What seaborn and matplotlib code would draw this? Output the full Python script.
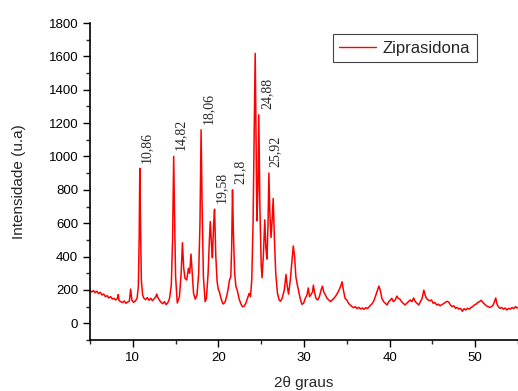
import pandas as pd
import matplotlib
matplotlib.use("Agg")
import matplotlib.pyplot as plt
import seaborn as sns
from matplotlib.ticker import MultipleLocator

# XRD pattern (2theta in degrees, intensity in u.a)
two_theta = [
    5.0, 5.2, 5.4, 5.6, 5.8, 6.0, 6.2, 6.4, 6.6, 6.8, 7.0, 7.2, 7.4, 7.6, 7.8,
    8.0, 8.2, 8.3, 8.4, 8.6, 8.8, 9.0, 9.2, 9.4, 9.6, 9.75, 9.9, 10.1, 10.3, 10.5,
    10.65, 10.75, 10.82, 10.9, 11.0, 11.15, 11.3, 11.5, 11.7, 11.9, 12.1, 12.3,
    12.5, 12.7, 12.8, 12.9, 13.1, 13.3, 13.5, 13.7, 13.9, 14.1, 14.3,
    14.5, 14.65, 14.78, 14.88, 15.0, 15.2, 15.45, 15.65, 15.8, 15.95, 16.1, 16.3,
    16.5, 16.65, 16.8, 16.95, 17.1, 17.3, 17.5, 17.7, 17.85, 17.98, 18.1, 18.25,
    18.45, 18.6, 18.8, 18.95, 19.05, 19.2, 19.3, 19.45, 19.55, 19.7, 19.85, 20.0,
    20.1, 20.3, 20.5, 20.6, 20.8, 21.0, 21.15, 21.3, 21.45, 21.55, 21.65, 21.75,
    21.9, 22.05, 22.2, 22.4, 22.6, 22.8, 23.0, 23.2, 23.4, 23.6, 23.75, 23.9,
    24.05, 24.2, 24.3, 24.42, 24.5, 24.62, 24.72, 24.85, 25.0, 25.1, 25.25, 25.42,
    25.55, 25.68, 25.8, 25.9, 26.02, 26.15, 26.28, 26.4, 26.55, 26.7, 26.9, 27.1,
    27.25, 27.45, 27.7, 27.9, 28.05, 28.2, 28.4, 28.6, 28.75, 28.9, 29.05, 29.2,
    29.35, 29.55, 29.75, 29.95, 30.15, 30.35, 30.5, 30.65, 30.8, 31.0, 31.1, 31.25,
    31.4, 31.6, 31.8, 32.0, 32.15, 32.3, 32.5, 32.7, 32.9, 33.1, 33.3, 33.5, 33.7,
    33.9, 34.1, 34.3, 34.45, 34.6, 34.8, 35.0, 35.2, 35.4, 35.6, 35.8, 36.0, 36.2,
    36.4, 36.6, 36.8, 37.0, 37.2, 37.4, 37.6, 37.8, 38.0, 38.2, 38.4, 38.6, 38.75,
    38.9, 39.1, 39.3, 39.5, 39.7, 39.9, 40.1, 40.25, 40.45, 40.65, 40.85, 41.0,
    41.2, 41.4, 41.6, 41.8, 42.0, 42.2, 42.4, 42.6, 42.8, 43.0, 43.2, 43.4, 43.6,
    43.8, 44.0, 44.15, 44.3, 44.5, 44.7, 44.9, 45.1, 45.3, 45.5, 45.7, 45.9, 46.1,
    46.3, 46.5, 46.7, 46.9, 47.1, 47.3, 47.5, 47.7, 47.9, 48.1, 48.3, 48.5, 48.7,
    48.9, 49.1, 49.3, 49.5, 49.7, 49.9, 50.1, 50.3, 50.5, 50.7, 50.9, 51.1, 51.3,
    51.5, 51.7, 51.9, 52.1, 52.25, 52.4, 52.55, 52.7, 52.9, 53.1, 53.3, 53.5, 53.7,
    53.9, 54.1, 54.3, 54.5, 54.7, 54.9, 55.0,
]
intensity = [
    199, 188, 196, 184, 192, 178, 186, 170, 176, 160, 166, 152, 160, 146, 150,
    140, 148, 172, 136, 130, 124, 134, 120, 128, 132, 205, 138, 126, 134, 150,
    220, 520, 929, 600, 260, 170, 150, 142, 154, 138, 150, 136,
    148, 160, 176, 158, 140, 126, 118, 130, 112, 124, 150,
    230, 500, 1001, 650, 280, 122, 160, 300, 483, 330, 270, 260,
    330, 300, 415, 300, 180, 145, 170, 300, 600, 1160, 700, 280,
    130, 150, 300, 500, 610, 470, 393, 600, 684, 400, 250, 200,
    193, 150, 120, 116, 130, 170, 210, 260, 280, 450, 800, 550,
    300, 220, 200, 150, 120, 100, 102, 120, 150, 180, 160, 260,
    600, 1200, 1618, 1000, 614, 800, 1250, 700, 350, 273, 400, 620,
    450, 385, 600, 901, 650, 514, 620, 748, 500, 300, 180, 140,
    132, 150, 200, 293, 220, 175, 260, 380, 464, 400, 280, 235,
    200, 150, 114, 120, 150, 170, 212, 160, 170, 190, 229, 180,
    150, 140, 160, 200, 223, 190, 170, 150, 140, 130, 140, 150, 163,
    180, 200, 225, 249, 200, 150, 140, 120, 110, 100, 94, 100, 88,
    96, 86, 92, 84, 94, 88, 98, 110, 120, 140, 170, 200, 223,
    200, 150, 130, 120, 110, 130, 140, 150, 130, 140, 163, 150,
    145, 130, 120, 110, 120, 130, 140, 130, 152, 130, 120, 110, 130,
    150, 199, 170, 150, 140, 135, 140, 120, 125, 110, 115, 105, 112,
    118, 125, 132, 128, 110, 100, 105, 90, 95, 85, 90, 72, 88,
    80, 90, 85, 95, 100, 110, 115, 125, 130, 138, 125, 115, 105,
    100, 95, 100, 110, 130, 152, 115, 100, 90, 95, 85, 92, 80,
    90, 85, 95, 88, 100, 92, 96,
]

# peak annotations (position, label, peak height)
peak_pos = [10.86, 14.82, 18.06, 19.58, 21.8, 24.88, 25.92]
peak_text = ["10,86", "14,82", "18,06", "19,58", "21,8", "24,88", "25,92"]
peak_height = [929, 1001, 1160, 684, 800, 1250, 901]

df = pd.DataFrame({"2θ": two_theta, "I": intensity, "amostra": "Ziprasidona"})

sns.set_style("ticks")
plt.rcParams["font.family"] = ["Liberation Sans", "DejaVu Sans"]

fig = plt.figure(figsize=(5.18, 3.91), dpi=100)
ax = fig.add_axes([0.1737, 0.1304, 0.8263, 0.8107])

sns.lineplot(data=df, x="2θ", y="I", hue="amostra", palette=["#ff0000"],
             estimator=None, linewidth=1.1, ax=ax)

for x, t, h in zip(peak_pos, peak_text, peak_height):
    ax.text(x, h + 35, t, rotation=90, ha="left", va="bottom",
            fontsize=10, family=["Liberation Serif", "DejaVu Serif"])

ax.set_xlim(5, 55)
ax.set_ylim(-100, 1800)
ax.xaxis.set_major_locator(MultipleLocator(10))
ax.xaxis.set_minor_locator(MultipleLocator(5))
ax.yaxis.set_major_locator(MultipleLocator(200))
ax.yaxis.set_minor_locator(MultipleLocator(100))
ax.tick_params(which="major", direction="out", length=5, width=1,
               labelsize=9.5, colors="black")
ax.tick_params(which="minor", direction="out", length=3, width=1)

ax.set_xlabel("2θ graus", fontsize=11, labelpad=9)
ax.set_ylabel("Intensidade (u.a)", fontsize=11, labelpad=16)

sns.despine(ax=ax)
for s in ["left", "bottom"]:
    ax.spines[s].set_linewidth(1.2)
    ax.spines[s].set_color("black")

leg = ax.legend(loc="upper right", bbox_to_anchor=(0.904, 0.965),
                borderaxespad=0, fontsize=12, fancybox=False, frameon=True,
                handlelength=2.2, handletextpad=0.4, framealpha=1,
                edgecolor="#444444")
leg.get_frame().set_linewidth(0.8)
for line in leg.get_lines():
    line.set_linewidth(1.0)

fig.savefig("out.png", dpi=100)
